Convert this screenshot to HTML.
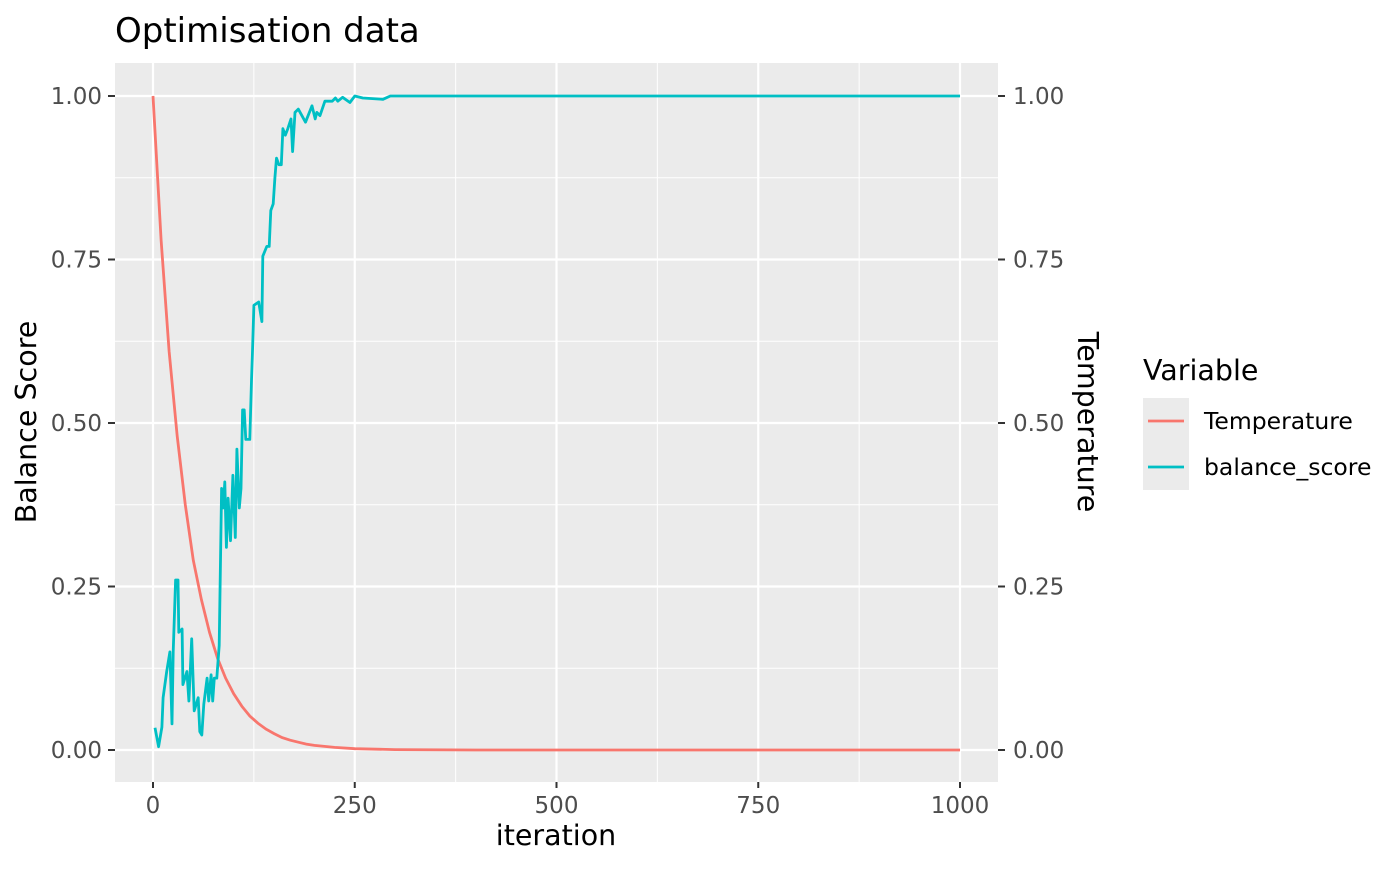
<!DOCTYPE html>
<html><head><meta charset="utf-8"><style>
body{margin:0;background:#fff;font-family:"Liberation Sans","DejaVu Sans",sans-serif;}
svg text{font-family:"DejaVu Sans","Liberation Sans",sans-serif;}
</style></head><body>
<svg id="chart" width="1400" height="866" viewBox="0 0 1400 866">
<text x="115" y="42" font-size="34" fill="#000">Optimisation data</text>
<rect x="115" y="63" width="883" height="719" fill="#ebebeb"/>
<g id="grid"></g>
<g id="series"></g>
<g id="axes"></g>
<text x="556" y="845" font-size="28.5" text-anchor="middle">iteration</text>
<text transform="translate(36,422) rotate(-90)" font-size="28.5" text-anchor="middle">Balance Score</text>
<text transform="translate(1078,422) rotate(90)" font-size="28.5" text-anchor="middle">Temperature</text>
<g>
<text x="1143" y="380" font-size="28.5">Variable</text>
<rect x="1143" y="398" width="46" height="92" fill="#ebebeb"/>
<line x1="1148" y1="421" x2="1184" y2="421" stroke="#f8766d" stroke-width="2.8"/>
<line x1="1148" y1="467" x2="1184" y2="467" stroke="#00bfc4" stroke-width="2.8"/>
<text x="1204" y="429" font-size="23.5">Temperature</text>
<text x="1204" y="475" font-size="23.5">balance_score</text>
</g>
</svg>
<script>
const xTicks=[0,250,500,750,1000];
const yTicks=[0,0.25,0.5,0.75,1];
const yTickLabels=["0.00","0.25","0.50","0.75","1.00"];
const tempIter=[0,10,20,30,40,50,60,70,80,90,100,110,120,130,140,150,160,170,180,190,200,225,250,300,400,1000];
const tempVal=[1,0.78,0.61,0.48,0.375,0.29,0.23,0.18,0.14,0.11,0.086,0.067,0.052,0.041,0.032,0.025,0.019,0.015,0.012,0.009,0.007,0.004,0.002,0.0006,0,0];
const balIter=[2.5,7,11,12.5,17,21,23.5,25,28,31,32,36,37,42,44.5,48,51,56,58,60.5,63,67,69,72,74,76,79,82,85,87,89,91,93,96,99,102,104,107,109,111,113,115,120,122,123,125,131,135,136,141,144,146,149,151,153,156,159,161,164,167,171,173,176,180,189,197,201,203,207,213,222,226,229,235,244,250,260,285,294,400,1000];
const balVal=[0.034,0.005,0.035,0.08,0.12,0.15,0.04,0.15,0.26,0.26,0.18,0.185,0.10,0.12,0.075,0.17,0.06,0.08,0.028,0.023,0.07,0.11,0.075,0.115,0.075,0.11,0.11,0.16,0.40,0.37,0.41,0.31,0.385,0.32,0.42,0.325,0.46,0.37,0.40,0.52,0.52,0.475,0.475,0.565,0.60,0.68,0.685,0.655,0.755,0.77,0.77,0.825,0.835,0.875,0.905,0.895,0.895,0.95,0.94,0.95,0.965,0.915,0.975,0.98,0.96,0.985,0.965,0.975,0.97,0.992,0.992,0.997,0.992,0.998,0.99,1.0,0.997,0.995,1.0,1.0,1.0];
const X=v=>153+v*0.807, Y=v=>750-v*654;
const NS='http://www.w3.org/2000/svg';
function mk(tag,attrs,parent){const e=document.createElementNS(NS,tag);for(const k in attrs)e.setAttribute(k,attrs[k]);document.getElementById(parent).appendChild(e);return e;}
for(let i=0;i<xTicks.length-1;i++){const m=(xTicks[i]+xTicks[i+1])/2;
 const l=mk('line',{x1:X(m),x2:X(m),y1:63,y2:782,stroke:'#fff','stroke-width':1},'grid');
 
 }
for(let i=0;i<yTicks.length-1;i++){const m=(yTicks[i]+yTicks[i+1])/2;
 const l=mk('line',{x1:115,x2:998,y1:Y(m),y2:Y(m),stroke:'#fff','stroke-width':1},'grid');
 
 }
xTicks.forEach(t=>{const l=mk('line',{x1:X(t),x2:X(t),y1:63,y2:782,stroke:'#fff','stroke-width':2.2},'grid');
 
 
 const k=mk('line',{x1:X(t),x2:X(t),y1:782,y2:788,stroke:'#333','stroke-width':2},'axes');
 
 
 const tx=mk('text',{x:X(t),y:813,'font-size':23,'text-anchor':'middle',fill:'#4d4d4d'},'axes');tx.textContent=t;
 
 });
yTicks.forEach((t,i)=>{const l=mk('line',{x1:115,x2:998,y1:Y(t),y2:Y(t),stroke:'#fff','stroke-width':2.2},'grid');
 
 
 const k=mk('line',{x1:108,x2:115,y1:Y(t),y2:Y(t),stroke:'#333','stroke-width':2},'axes');
 
 
 const k2=mk('line',{x1:998,x2:1005,y1:Y(t),y2:Y(t),stroke:'#333','stroke-width':2},'axes');
 
 
 const tx=mk('text',{x:102,y:Y(t)+8,'font-size':23,'text-anchor':'end',fill:'#4d4d4d'},'axes');tx.textContent=yTickLabels[i];
 
 
 const tx2=mk('text',{x:1013,y:Y(t)+8,'font-size':23,fill:'#4d4d4d'},'axes');tx2.textContent=yTickLabels[i];
 
 });
function path(xs,ys){return xs.map((v,i)=>(i?'L':'M')+X(v).toFixed(1)+','+Y(ys[i]).toFixed(1)).join('');}
const tp=mk('path',{d:path(tempIter,tempVal),fill:'none',stroke:'#f8766d','stroke-width':2.8},'series');


const bp=mk('path',{d:path(balIter,balVal),fill:'none',stroke:'#00bfc4','stroke-width':2.8,'stroke-linejoin':'round'},'series');


</script>
</body></html>
